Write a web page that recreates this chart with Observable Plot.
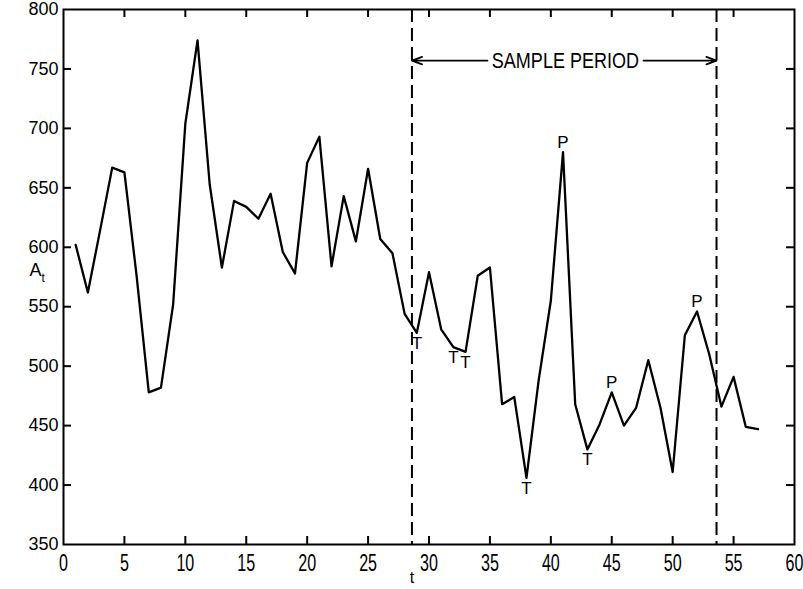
<!DOCTYPE html>
<html><head><meta charset="utf-8">
<script src="https://cdn.jsdelivr.net/npm/d3@7"></script>
<script src="https://cdn.jsdelivr.net/npm/@observablehq/plot@0.6"></script>
<style>
body{margin:0;background:#fff}
#chart{width:803px;height:589px}
svg{overflow:visible}
</style></head><body><div id="chart"></div>
<script>
// data
const tValues = d3.range(1, 58);
const aValues = [602,562,614,667,663,576,478,482,552,704,774,653,583,639,634,624,645,596,578,671,
                 693,584,643,605,666,607,595,544,528,579,531,516,512,576,583,468,474,406,488,555,
                 680,468,430,451,478,450,465,505,465,411,526,546,510,466,491,449,447];
const troughT = [29, 32, 33, 38, 43];
const peakT = [41, 45, 52];
const sampleBounds = [28.6, 53.6];
const sampleLabel = "SAMPLE PERIOD";
const xTicks = d3.range(0, 61, 5);
const yTicks = d3.range(350, 801, 50);

const W = 803, H = 589, mL = 63, mR = 9, mT = 9, mB = 45;
const fw = W - mL - mR, fh = H - mT - mB;
const tick = 8;
const sans = "Liberation Sans, Arial, Helvetica, sans-serif";
const valAt = t => aValues[tValues.indexOf(t)];

const xInner = xTicks.slice(1, -1), yInner = yTicks.slice(1, -1);
const arrowY = 757;

const chart = Plot.plot({
  width: W, height: H,
  marginLeft: mL, marginRight: mR, marginTop: mT, marginBottom: mB,
  x: {domain: [0, 60]},
  y: {domain: [350, 800]},
  style: {background: "#fff", color: "#000"},
  marks: [
    Plot.axisY(yTicks, {tickSize: 0, tickPadding: 5, fontSize: 18, fontFamily: sans, label: null}),
    Plot.axisX(xTicks, {tickSize: 0, tickPadding: 10, fontSize: 23, fontFamily: sans, label: null}),
    Plot.tickX(xInner, {insetTop: fh - tick, strokeWidth: 2}),
    Plot.tickX(xInner, {insetBottom: fh - tick, strokeWidth: 2}),
    Plot.tickY(yInner, {insetRight: fw - tick, strokeWidth: 2}),
    Plot.tickY(yInner, {insetLeft: fw - tick, strokeWidth: 2}),
    Plot.frame({stroke: "#000", strokeWidth: 2}),
    Plot.ruleX(sampleBounds, {strokeDasharray: "13,6", strokeWidth: 2}),
    Plot.line(aValues, {x: tValues, y: aValues, strokeWidth: 2.3, stroke: "#000"}),
    Plot.arrow([0], {x1: 34.8, x2: sampleBounds[0], y1: arrowY, y2: arrowY, headLength: 9, headAngle: 40, strokeWidth: 1.8, insetEnd: 0}),
    Plot.arrow([0], {x1: 47.6, x2: sampleBounds[1], y1: arrowY, y2: arrowY, headLength: 9, headAngle: 40, strokeWidth: 1.8, insetEnd: 0}),
    Plot.text([sampleLabel], {x: () => 41.2, y: () => arrowY, text: d => d, fontSize: 22, fontFamily: sans}),
    Plot.text(troughT, {x: d => d, y: valAt, text: () => "T", lineAnchor: "top", dy: 4, fontSize: 17, fontFamily: sans}),
    Plot.text(peakT, {x: d => d, y: valAt, text: () => "P", lineAnchor: "bottom", dy: -4, fontSize: 17, fontFamily: sans}),
    Plot.text(["A"], {frameAnchor: "left", dx: -34, y: 581, text: d => d, fontSize: 18, fontFamily: sans}),
    Plot.text(["t"], {frameAnchor: "left", dx: -22, y: 574, text: d => d, fontSize: 12, fontFamily: sans}),
    Plot.text(["t"], {frameAnchor: "bottom", x: 28.6, dy: 38, text: d => d, fontSize: 16, fontFamily: sans})
  ]
});

// condense the lettered texts horizontally (reference uses a narrow lettering style)
function condense(nodes, s) {
  nodes.each(function() {
    const el = this;
    let tr = el.getAttribute("transform");
    if (!tr) {
      const x = +(el.getAttribute("x") || 0), y = +(el.getAttribute("y") || 0);
      el.removeAttribute("x"); el.removeAttribute("y");
      tr = `translate(${x},${y})`;
    }
    el.setAttribute("transform", tr + ` scale(${s},1)`);
  });
}
condense(d3.select(chart).selectAll('g[aria-label="x-axis tick label"] text'), 0.7);
condense(d3.select(chart).selectAll("text").filter(function() { return this.textContent === sampleLabel; }), 0.82);
document.getElementById("chart").appendChild(chart);
</script>
</body></html>
